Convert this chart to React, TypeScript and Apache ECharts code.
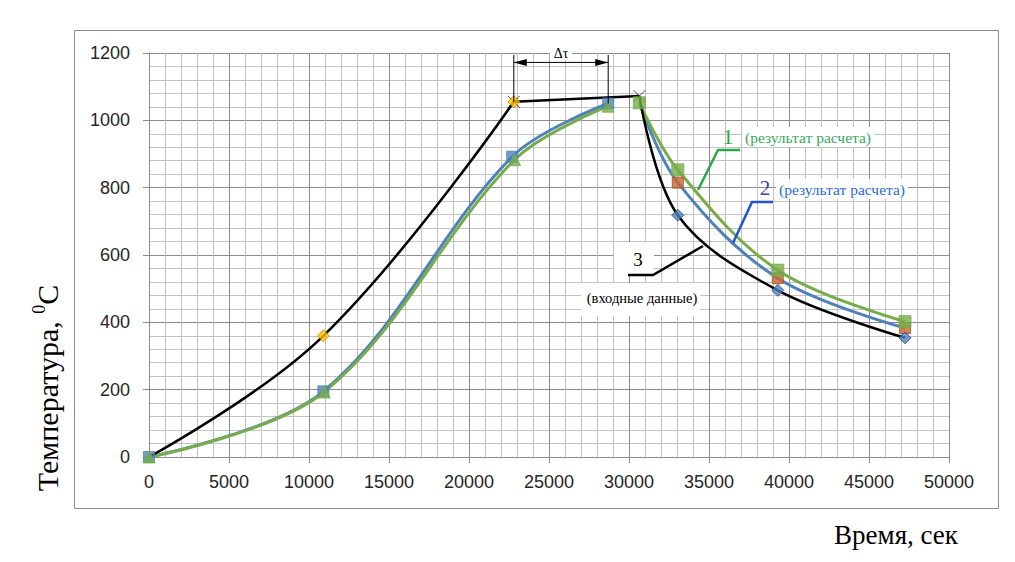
import React, { useEffect, useRef } from "react";
import * as echarts from "echarts";

// ---- data ----
const inputTime = [0, 10900, 22800, 30650, 33050, 39300, 47250];
const inputTemp = [0, 360, 1055, 1072, 718, 495, 354];

const calc2Time = [0, 10900, 22700, 28700, 30650, 33050, 39300, 47250];
const calc2Temp = [0, 195, 892, 1050, 1052, 815, 531, 383];

const calc1Time = [0, 10950, 22850, 28700, 30650, 33050, 39300, 47250];
const calc1Temp = [0, 193, 883, 1042, 1052, 853, 555, 402];

const xMin = 0;
const xMax = 50000;
const xStep = 5000;
const yMin = 0;
const yMax = 1200;
const yStep = 200;

const dtStartTime = 22800;
const dtEndTime = 28700;
const dtArrowTemp = 1172;
const dtLineTop = 1200;

const pts = (xs: number[], ys: number[]) => xs.map((x, i) => [x, ys[i]]);

const BLUE = "#4f81bd";
const GREEN = "#77ac4b";
const BROWN = "#c8662e";
const GRID_MAJOR = "#8c8c8c";
const GRID_MINOR = "#c3c3c3";
const SERIF = "'Liberation Serif', 'Times New Roman', serif";
const SANS = "'Liberation Sans', Arial, sans-serif";

export default function App() {
  const ref = useRef<HTMLDivElement>(null);

  useEffect(() => {
    if (!ref.current) return;
    const chart = echarts.init(ref.current, undefined, { renderer: "svg" });

    const input = pts(inputTime, inputTemp);
    const c2 = pts(calc2Time, calc2Temp);
    const c1 = pts(calc1Time, calc1Temp);

    const lineBase = (data: number[][], color: string, width: number, smooth: number | false, z: number) => ({
      type: "line",
      data,
      smooth,
      showSymbol: false,
      symbol: "none",
      lineStyle: { color, width },
      itemStyle: { color },
      z,
      silent: true,
    });

    const scatter = (data: number[][], symbol: string, size: number, color: string, border: string, z: number, bw = 1) => ({
      type: "scatter",
      data,
      symbol,
      symbolSize: size,
      itemStyle: { color, borderColor: border, borderWidth: bw },
      z,
      clip: false,
      silent: true,
    });

    const axisCommon = {
      axisLine: { show: true, lineStyle: { color: GRID_MAJOR, width: 1 } },
      axisTick: { show: true, length: 6, lineStyle: { color: GRID_MAJOR } },
      splitLine: { show: true, lineStyle: { color: GRID_MAJOR, width: 1 } },
      minorTick: { show: false, splitNumber: 5 },
      minorSplitLine: { show: true, lineStyle: { color: GRID_MINOR, width: 1 } },
    };

    chart.setOption({
      animation: false,
      grid: { left: 149, right: 66, top: 53, bottom: 105, containLabel: false },
      xAxis: {
        type: "value",
        min: xMin,
        max: xMax,
        interval: xStep,
        ...axisCommon,
        axisLabel: { fontFamily: SANS, fontSize: 18, color: "#262626", margin: 16, formatter: (v: number) => String(v) },
      },
      yAxis: {
        type: "value",
        min: yMin,
        max: yMax,
        interval: yStep,
        ...axisCommon,
        axisLabel: { fontFamily: SANS, fontSize: 18, color: "#262626", margin: 19, formatter: (v: number) => String(v) },
      },
      series: [
        lineBase(c2.slice(0, 4), BLUE, 3, 0.35, 2),
        lineBase(c2.slice(4), BLUE, 3, 0.35, 2),
        lineBase(c1.slice(0, 4), GREEN, 3, 0.35, 3),
        lineBase(c1.slice(4), GREEN, 3, 0.35, 3),
        lineBase(input.slice(0, 3), "#000", 2.5, 0.4, 4),
        lineBase(input.slice(2, 4), "#000", 2.5, false, 4),
        lineBase(input.slice(3), "#000", 2.5, 0.35, 4),
        scatter(input.slice(2, 4), "path://M0,0L10,10M10,0L0,10", 12, "none", "#222", 5, 1),
        scatter(c2.slice(0, 4), "rect", 11, BLUE, BLUE, 6),
        scatter(c2.slice(5), "rect", 11, BROWN, "#a8501f", 6),
        scatter(c1.slice(0, 4), "triangle", 12, GREEN, GREEN, 7),
        scatter(c1.slice(4), "rect", 12, GREEN, GREEN, 7),
        scatter(input.slice(1, 3), "diamond", 12, "#ffc000", "#d88a00", 8),
        scatter(input.slice(4), "diamond", 12, BLUE, "#2a4a7a", 8),
      ],
    });

    const p = (x: number, y: number) => chart.convertToPixel({ gridIndex: 0 }, [x, y]) as number[];
    const a = p(dtStartTime, dtLineTop);
    const b = p(dtEndTime, dtLineTop);
    const aBot = p(dtStartTime, inputTemp[2]);
    const bBot = p(dtEndTime, calc2Temp[3]);
    const ay = p(dtStartTime, dtArrowTemp)[1];
    const ah = 13;
    const aw = 3.5;

    const graphic: any[] = [
      {
        type: "rect",
        shape: { x: 74.5, y: 30.5, width: 924, height: 478 },
        style: { fill: "none", stroke: "#8c8c8c", lineWidth: 1 },
        z: 0,
        silent: true,
      },
      // white text boxes
      {
        type: "rect",
        shape: { x: 581, y: 283, width: 119, height: 33 },
        style: { fill: "#fff" },
        z: 1,
        silent: true,
      },
      {
        type: "rect",
        shape: { x: 614, y: 242, width: 40, height: 32 },
        style: { fill: "#fff" },
        z: 1,
        silent: true,
      },
      // Δτ
      {
        type: "line",
        shape: { x1: a[0], y1: a[1] + 2, x2: aBot[0], y2: aBot[1] },
        style: { stroke: "#000", lineWidth: 1 },
        z: 20,
        silent: true,
      },
      {
        type: "line",
        shape: { x1: b[0], y1: b[1] + 2, x2: bBot[0], y2: bBot[1] },
        style: { stroke: "#000", lineWidth: 1 },
        z: 20,
        silent: true,
      },
      {
        type: "line",
        shape: { x1: a[0], y1: ay, x2: b[0], y2: ay },
        style: { stroke: "#000", lineWidth: 1 },
        z: 20,
        silent: true,
      },
      {
        type: "polygon",
        shape: { points: [[a[0], ay], [a[0] + ah, ay - aw], [a[0] + ah, ay + aw]] },
        style: { fill: "#000" },
        z: 20,
        silent: true,
      },
      {
        type: "polygon",
        shape: { points: [[b[0], ay], [b[0] - ah, ay - aw], [b[0] - ah, ay + aw]] },
        style: { fill: "#000" },
        z: 20,
        silent: true,
      },
      {
        type: "text",
        x: (a[0] + b[0]) / 2,
        y: a[1],
        style: {
          text: "Δτ",
          fontFamily: SERIF,
          fontSize: 14,
          fill: "#000",
          align: "center",
          verticalAlign: "middle",
          backgroundColor: "#fff",
          padding: [0, 4],
        },
        z: 20,
        silent: true,
      },
      // leader lines
      {
        type: "polyline",
        shape: { points: [[698, 190], [718, 150], [740, 150]] },
        style: { stroke: "#2aa84a", lineWidth: 2.5, fill: "none" },
        z: 20,
        silent: true,
      },
      {
        type: "polyline",
        shape: { points: [[733, 243], [752, 202], [773, 202]] },
        style: { stroke: "#2255cc", lineWidth: 2.5, fill: "none" },
        z: 20,
        silent: true,
      },
      {
        type: "polyline",
        shape: { points: [[703, 246], [653, 275], [628, 275]] },
        style: { stroke: "#000", lineWidth: 2.5, fill: "none" },
        z: 20,
        silent: true,
      },
      // labels
      {
        type: "text",
        x: 728,
        y: 136,
        style: { text: "1", fontFamily: SERIF, fontSize: 22, fill: "#2aa84a", align: "center", verticalAlign: "middle" },
        z: 20,
        silent: true,
      },
      {
        type: "text",
        x: 742,
        y: 137,
        style: {
          text: "(результат расчета)",
          fontFamily: SERIF,
          fontSize: 15.5,
          fill: "#3aa860",
          align: "left",
          verticalAlign: "middle",
          backgroundColor: "#fff",
          padding: [2, 3],
        },
        z: 20,
        silent: true,
      },
      {
        type: "text",
        x: 765,
        y: 188,
        style: { text: "2", fontFamily: SERIF, fontSize: 21, fill: "#4040b0", align: "center", verticalAlign: "middle" },
        z: 20,
        silent: true,
      },
      {
        type: "text",
        x: 776,
        y: 189,
        style: {
          text: "(результат расчета)",
          fontFamily: SERIF,
          fontSize: 15.5,
          fill: "#2a6ad8",
          align: "left",
          verticalAlign: "middle",
          backgroundColor: "#fff",
          padding: [2, 3],
        },
        z: 20,
        silent: true,
      },
      {
        type: "text",
        x: 638,
        y: 259,
        style: { text: "3", fontFamily: SERIF, fontSize: 19, fill: "#000", align: "center", verticalAlign: "middle" },
        z: 20,
        silent: true,
      },
      {
        type: "text",
        x: 642,
        y: 298,
        style: { text: "(входные данные)", fontFamily: SERIF, fontSize: 14.5, fill: "#000", align: "center", verticalAlign: "middle" },
        z: 20,
        silent: true,
      },
      // axis titles
      {
        type: "text",
        x: 47,
        y: 388,
        rotation: Math.PI / 2,
        style: {
          text: "{a|Температура, }{s|0}{a|C}",
          align: "center",
          verticalAlign: "middle",
          rich: {
            a: { fontFamily: SERIF, fontSize: 30, fill: "#000", lineHeight: 34 },
            s: { fontFamily: SERIF, fontSize: 18, fill: "#000", verticalAlign: "top", lineHeight: 34 },
          },
        },
        z: 20,
        silent: true,
      },
      {
        type: "text",
        x: 896,
        y: 535,
        style: { text: "Время, сек", fontFamily: SERIF, fontSize: 27, fill: "#000", align: "center", verticalAlign: "middle" },
        z: 20,
        silent: true,
      },
    ];

    chart.setOption({ graphic });

    return () => chart.dispose();
  }, []);

  return (
    <div
      ref={ref}
      style={{ position: "fixed", left: 0, top: 0, width: 1015, height: 562, background: "#fff" }}
    />
  );
}
